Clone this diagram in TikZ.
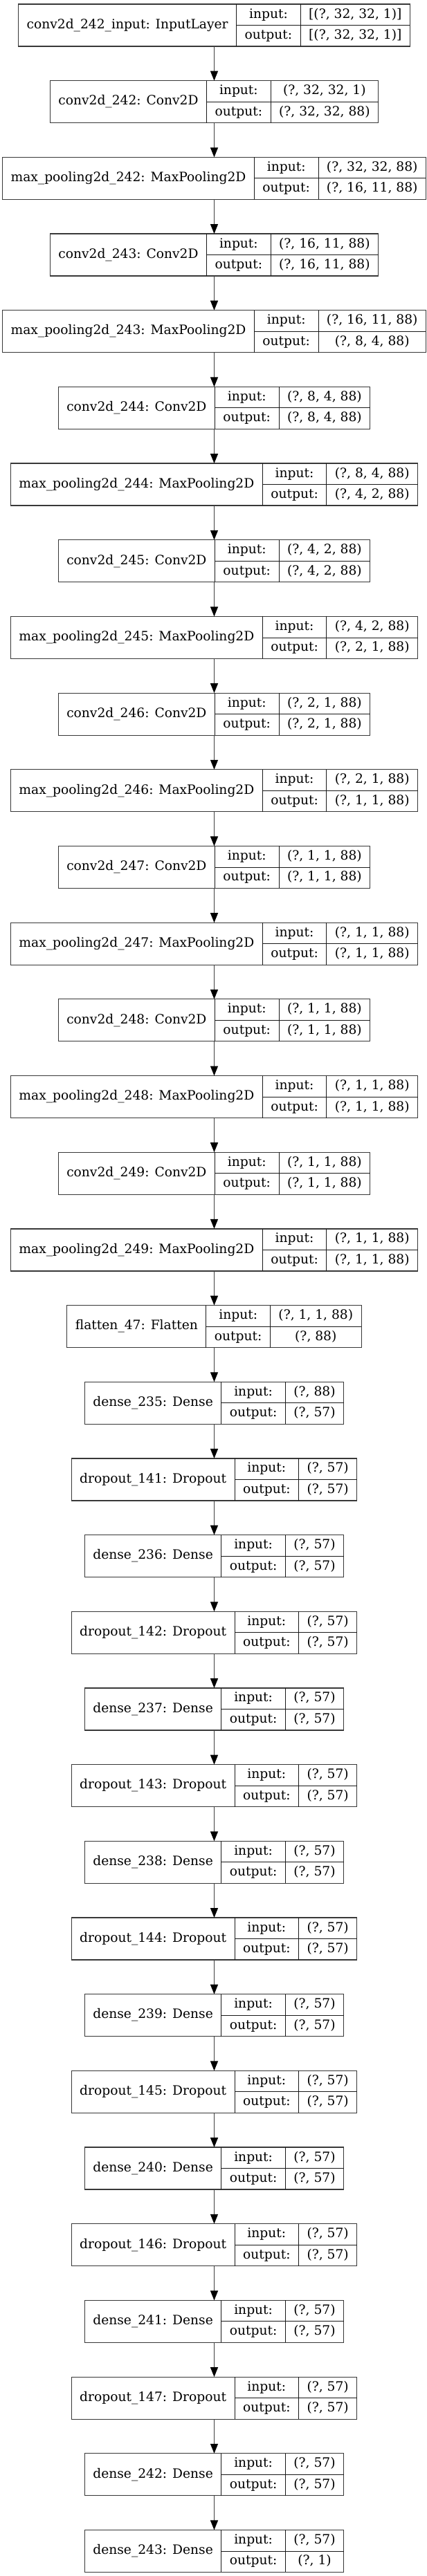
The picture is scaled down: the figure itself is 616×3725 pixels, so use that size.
\documentclass[tikz,border=0pt]{standalone}
\usepackage{fontspec}
\setmainfont{DejaVu Serif}
\usetikzlibrary{arrows.meta}
\usetikzlibrary{positioning}

\newlength\lblw
\newlength\iow
\newlength\valw
\newlength\tmpw
\newlength\boxw
\font\layerfnt="DejaVu Serif" at 18.74pt

\tikzset{
  layerbox/.style={draw=black!78, line width=1.2bp, minimum height=61bp, inner sep=0pt, outer sep=0pt},
  field/.style={inner sep=0pt, outer sep=0pt, font=\layerfnt, text height=14bp, text depth=4.5bp},
  divider/.style={draw=black!90, line width=0.9bp},
  edge/.style={draw=black!75, line width=1.3bp, -{Triangle[length=14bp,width=11bp,color=black]}},
}

% #1 node name, #2 row, #3 layer label, #4 input shape, #5 output shape
\newcommand\layer[5]{%
  \settowidth\lblw{\layerfnt #3}\addtolength\lblw{24bp}%
  \settowidth\iow{\layerfnt output:}\addtolength\iow{24bp}%
  \settowidth\valw{\layerfnt #4}\settowidth\tmpw{\layerfnt #5}%
  \ifdim\tmpw>\valw \valw=\tmpw\fi
  \addtolength\valw{24bp}%
  \boxw=\dimexpr\lblw+\iow+\valw\relax
  \node[layerbox, minimum width=\boxw, anchor=north] (#1) at (309.5, 6+110.68*#2) {};
  \node[field, minimum width=\lblw, minimum height=61bp, anchor=north west] (#1-name) at (#1.north west) {#3};
  \node[field, minimum width=\iow, minimum height=30.5bp, anchor=north west] (#1-in) at (#1-name.north east) {input:};
  \node[field, minimum width=\iow, minimum height=30.5bp, below=0pt of #1-in] (#1-out) {output:};
  \node[field, minimum width=\valw, minimum height=30.5bp, right=0pt of #1-in] (#1-inv) {#4};
  \node[field, minimum width=\valw, minimum height=30.5bp, right=0pt of #1-out] (#1-outv) {#5};
  \draw[divider] (#1-name.north east) -- (#1-name.south east)
    (#1-in.north east) -- (#1-out.south east)
    (#1-in.south west) -- (#1-inv.south east);%row split
}

\begin{document}
\begin{tikzpicture}[x=1bp, y=-1bp]
  \fill[white] (0,0) rectangle (616,3725);

  \layer{input}{0}{conv2d\_242\_input: InputLayer}{[(?, 32, 32, 1)]}{[(?, 32, 32, 1)]}
  \layer{conv242}{1}{conv2d\_242: Conv2D}{(?, 32, 32, 1)}{(?, 32, 32, 88)}
  \layer{pool242}{2}{max\_pooling2d\_242: MaxPooling2D}{(?, 32, 32, 88)}{(?, 16, 11, 88)}
  \layer{conv243}{3}{conv2d\_243: Conv2D}{(?, 16, 11, 88)}{(?, 16, 11, 88)}
  \layer{pool243}{4}{max\_pooling2d\_243: MaxPooling2D}{(?, 16, 11, 88)}{(?, 8, 4, 88)}
  \layer{conv244}{5}{conv2d\_244: Conv2D}{(?, 8, 4, 88)}{(?, 8, 4, 88)}
  \layer{pool244}{6}{max\_pooling2d\_244: MaxPooling2D}{(?, 8, 4, 88)}{(?, 4, 2, 88)}
  \layer{conv245}{7}{conv2d\_245: Conv2D}{(?, 4, 2, 88)}{(?, 4, 2, 88)}
  \layer{pool245}{8}{max\_pooling2d\_245: MaxPooling2D}{(?, 4, 2, 88)}{(?, 2, 1, 88)}
  \layer{conv246}{9}{conv2d\_246: Conv2D}{(?, 2, 1, 88)}{(?, 2, 1, 88)}
  \layer{pool246}{10}{max\_pooling2d\_246: MaxPooling2D}{(?, 2, 1, 88)}{(?, 1, 1, 88)}

  \foreach \k in {0,1,2} {
      \pgfmathtruncatemacro\lnum{247+\k}
      \pgfmathtruncatemacro\crow{11+2*\k}
      \pgfmathtruncatemacro\prow{12+2*\k}
      \layer{conv\lnum}{\crow}{conv2d\_\lnum: Conv2D}{(?, 1, 1, 88)}{(?, 1, 1, 88)}
      \layer{pool\lnum}{\prow}{max\_pooling2d\_\lnum: MaxPooling2D}{(?, 1, 1, 88)}{(?, 1, 1, 88)}
    }

  \layer{flatten47}{17}{flatten\_47: Flatten}{(?, 1, 1, 88)}{(?, 88)}
  \layer{dense235}{18}{dense\_235: Dense}{(?, 88)}{(?, 57)}
  \layer{dropout141}{19}{dropout\_141: Dropout}{(?, 57)}{(?, 57)}

  \foreach \k in {0,...,5} {
      \pgfmathtruncatemacro\dnum{236+\k}
      \pgfmathtruncatemacro\onum{142+\k}
      \pgfmathtruncatemacro\drow{20+2*\k}
      \pgfmathtruncatemacro\orow{21+2*\k}
      \layer{dense\dnum}{\drow}{dense\_\dnum: Dense}{(?, 57)}{(?, 57)}
      \layer{dropout\onum}{\orow}{dropout\_\onum: Dropout}{(?, 57)}{(?, 57)}
    }

  \layer{dense242}{32}{dense\_242: Dense}{(?, 57)}{(?, 57)}
  \layer{dense243}{33}{dense\_243: Dense}{(?, 57)}{(?, 1)}

  % connectors
  \foreach \n [remember=\n as \last (initially input)] in {conv242,pool242,conv243,pool243,
      conv244,pool244,conv245,pool245,conv246,pool246,conv247,pool247,conv248,pool248,
      conv249,pool249,flatten47,dense235,dropout141,dense236,dropout142,dense237,dropout143,
      dense238,dropout144,dense239,dropout145,dense240,dropout146,dense241,dropout147,
      dense242,dense243} {
      \draw[edge] (\last.south) -- (\n.north);
    }
\end{tikzpicture}
\end{document}
